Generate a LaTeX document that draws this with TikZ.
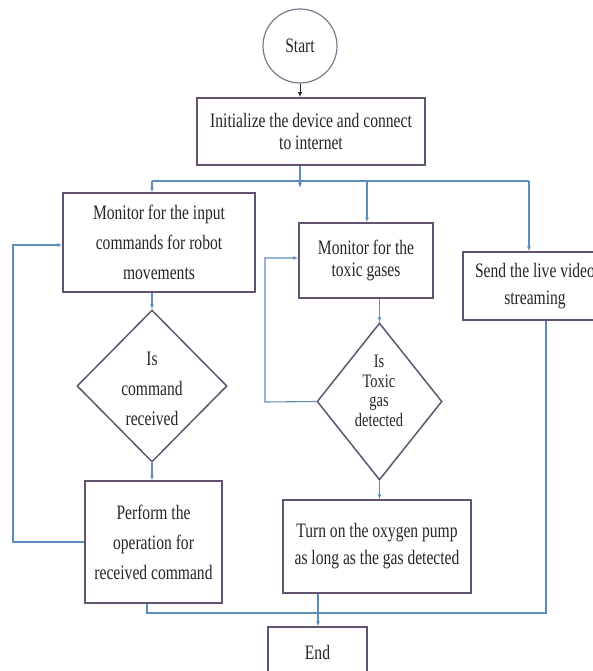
\documentclass[tikz,border=0pt]{standalone}
\usepackage{fontspec}
\setmainfont{Liberation Serif}[FakeStretch=0.76]
\usetikzlibrary{shapes.geometric,arrows.meta}
\definecolor{boxc}{RGB}{98,84,112}
\definecolor{connc}{RGB}{92,140,188}
\tikzset{
  box/.style={draw=boxc, line width=1.5pt, rectangle, inner sep=0pt, align=center, text=black!85},
  dia/.style={draw=boxc, line width=1.5pt, diamond, inner sep=0pt},
  txt/.style={inner sep=0pt, align=center, text=black!85},
  conn/.style={draw=connc, line width=1.1pt},
  arr/.style={conn, -{Latex[length=5pt,width=4pt]}},
  fsA/.style={font=\fontsize{20.5}{22.5}\selectfont},
  fsB/.style={font=\fontsize{20.5}{30}\selectfont},
  fsC/.style={font=\fontsize{19}{19.5}\selectfont},
  fsD/.style={font=\fontsize{20.5}{27}\selectfont},
}
\begin{document}
\begin{tikzpicture}[x=1pt,y=-1pt]
\useasboundingbox (0,0) rectangle (592,671);
% nodes
\node[draw=boxc!80, line width=1.2pt, circle, minimum size=74pt, inner sep=0pt, fsA, text=black!85] (start) at (300,46) {Start};
\node[box, fsA, minimum width=228pt, minimum height=67pt] (init) at (311,131.5) {Initialize the device and connect\\to internet};
\node[box, fsB, minimum width=192pt, minimum height=99pt] (mon1) at (159,242.5) {Monitor for the input\\commands for robot\\movements};
\node[box, fsA, minimum width=134pt, minimum height=75pt] (mon2) at (366,260.5) {Monitor for the\\toxic gases};
\node[box, fsD, minimum width=144pt, minimum height=68pt] (video) at (535,286) {Send the live video\\streaming};
\node[dia, minimum width=150pt, minimum height=152pt] (d1) at (152,386) {};
\node[txt, fsB] (d1t) at (152,389) {Is\\command\\received};
\node[dia, minimum width=125pt, minimum height=157pt] (d2) at (379.5,401.5) {};
\node[txt, fsC] (d2t) at (379,391) {Is\\Toxic\\gas\\detected};
\node[box, fsB, minimum width=137pt, minimum height=122pt] (perf) at (153.5,542) {Perform the\\operation for\\received command};
\node[box, fsD, minimum width=188pt, minimum height=93pt] (pump) at (377,546.5) {Turn on the oxygen pump\\as long as the gas detected};
\node[box, fsA, minimum width=99pt, minimum height=50pt] (end) at (317.5,652) {End};
% coordinates
\coordinate (busL) at (152,181);
\coordinate (busR) at (529,181);
\coordinate (bus2) at (367,181);
\coordinate (itip) at (300,188);
\coordinate (loop1a) at (13,542);
\coordinate (loop1b) at (13,245);
\coordinate (loop2a) at (265,402);
\coordinate (loop2b) at (265,258);
\coordinate (joinL) at (147,613);
\coordinate (joinM) at (318,613);
\coordinate (joinR) at (546,613);
% connectors
\draw[draw=black!85, line width=1pt, -{Latex[length=5pt,width=4pt]}] (start.south) -- (start.south |- init.north);
\draw[arr] (init.south -| itip) -- (itip);
\draw[conn] (busL) -- (busR);
\draw[arr] (busL) -- (busL |- mon1.north);
\draw[arr] (bus2) -- (bus2 |- mon2.north);
\draw[arr] (busR) -- (busR |- video.north);
\draw[arr] (mon1.south -| d1.north) -- (d1.north);
\draw[arr] (d1.south) -- (d1.south |- perf.north);
\draw[arr] (perf.west |- loop1a) -- (loop1a) -- (loop1b) -- (loop1b -| mon1.west);
\draw[arr] (mon2.south -| d2.north) -- (d2.north);
\draw[arr] (d2.west) -- (loop2a) -- (loop2b) -- (loop2b -| mon2.west);
\draw[arr] (d2.south) -- (d2.south |- pump.north);
\draw[arr] (pump.south -| joinM) -- (joinM |- end.north);
\draw[conn] (perf.south -| joinL) -- (joinL) -- (joinM);
\draw[conn] (video.south -| joinR) -- (joinR) -- (joinM);
\end{tikzpicture}
\end{document}
